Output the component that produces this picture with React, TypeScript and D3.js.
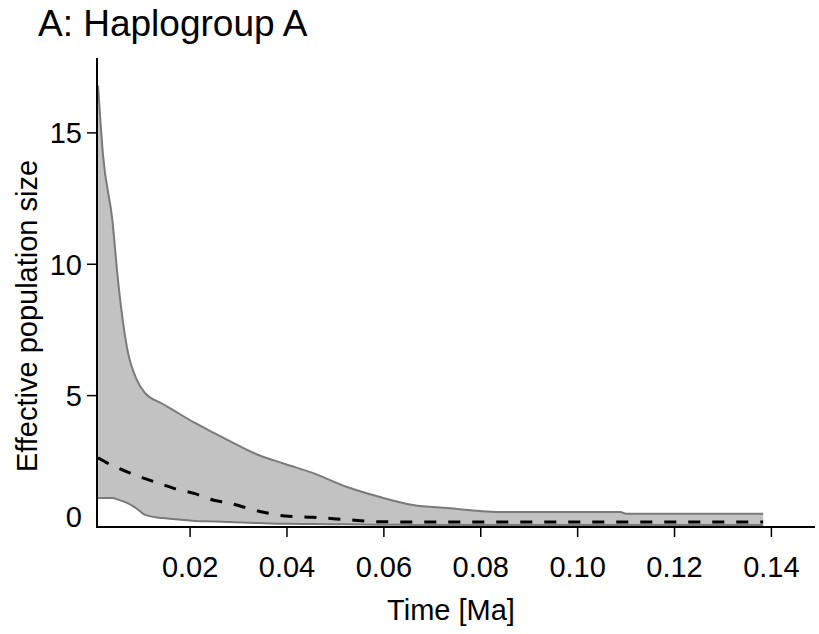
import React from "react";
import * as d3 from "d3";

const title = "A: Haplogroup A";
const xLabel = "Time [Ma]";
const yLabel = "Effective population size";

const times = [0.001, 0.002, 0.004, 0.005, 0.007, 0.009, 0.0107, 0.0142, 0.0165, 0.021, 0.0247, 0.0278, 0.034, 0.0396, 0.0453, 0.0524, 0.0592, 0.066, 0.0731, 0.0834, 0.1088, 0.11, 0.1383];
const upper = [16.8, 14.2, 11.6, 9.6, 6.8, 5.6, 5.1, 4.7, 4.45, 3.96, 3.6, 3.31, 2.75, 2.4, 2.06, 1.52, 1.14, 0.84, 0.72, 0.57, 0.57, 0.5, 0.5];
const median = [2.63, 2.53, 2.33, 2.25, 2.1, 1.95, 1.84, 1.62, 1.48, 1.27, 1.03, 0.92, 0.61, 0.42, 0.37, 0.28, 0.2, 0.19, 0.19, 0.19, 0.19, 0.19, 0.19];
const lower = [1.1, 1.1, 1.1, 1.05, 0.92, 0.7, 0.46, 0.34, 0.3, 0.23, 0.21, 0.19, 0.15, 0.12, 0.11, 0.1, 0.09, 0.08, 0.08, 0.08, 0.08, 0.08, 0.08];

const xTicks = [0.02, 0.04, 0.06, 0.08, 0.1, 0.12, 0.14];
const xTickLabels = ["0.02", "0.04", "0.06", "0.08", "0.10", "0.12", "0.14"];
const yTicks = [0, 5, 10, 15];

const W = 819;
const H = 634;
const FONT = "'Liberation Sans', Arial, sans-serif";

export default function App() {
  const x = d3.scaleLinear().domain([0.00078, 0.149]).range([97, 815]);
  const y = d3.scaleLinear().domain([0, 17.85]).range([527, 58]);

  const idx = times.map((_, i) => i);
  const area = d3
    .area<number>()
    .curve(d3.curveMonotoneX)
    .x((i) => x(times[i]))
    .y0((i) => y(lower[i]))
    .y1((i) => y(upper[i]));
  const lineOf = (vals: number[]) =>
    d3
      .line<number>()
      .curve(d3.curveMonotoneX)
      .x((i) => x(times[i]))
      .y((i) => y(vals[i]))(idx) || "";

  const [x0, x1] = x.range();
  const [yb, yt] = y.range();

  return (
    <svg width={W} height={H} style={{ display: "block", position: "absolute", left: 0, top: 0, background: "#fff" }} fontFamily={FONT}>
      <text x={38} y={36} fontSize={37} fill="#000">{title}</text>

      <path d={area(idx) || ""} fill="#c2c2c2" stroke="none" />
      <path d={lineOf(upper)} fill="none" stroke="#7a7a7a" strokeWidth={2} />
      <path d={lineOf(lower)} fill="none" stroke="#7a7a7a" strokeWidth={2} />
      <path d={lineOf(median)} fill="none" stroke="#000" strokeWidth={3} strokeDasharray="12,12" />

      {/* axes */}
      <line x1={x0} x2={x0} y1={yt} y2={yb + 1} stroke="#000" strokeWidth={2} />
      <line x1={x0 - 1} x2={x1} y1={yb} y2={yb} stroke="#000" strokeWidth={2} />

      {yTicks.map((v) => (
        <g key={"y" + v}>
          {v !== 0 && <line x1={x0 - 10} x2={x0} y1={y(v)} y2={y(v)} stroke="#000" strokeWidth={1.5} />}
          <text x={x0 - 15} y={v === 0 ? y(v) - 10 : y(v)} dy="0.36em" textAnchor="end" fontSize={29} fill="#000">
            {String(v)}
          </text>
        </g>
      ))}

      {xTicks.map((v, i) => (
        <g key={"x" + v}>
          <line x1={x(v)} x2={x(v)} y1={yb} y2={yb + 10} stroke="#000" strokeWidth={1.5} />
          <text x={x(v)} y={577} textAnchor="middle" fontSize={29} fill="#000">
            {xTickLabels[i]}
          </text>
        </g>
      ))}

      <text x={451} y={620} textAnchor="middle" fontSize={29} fill="#000">{xLabel}</text>
      <text transform="translate(37,316) rotate(-90)" textAnchor="middle" fontSize={29} fill="#000">{yLabel}</text>
    </svg>
  );
}
